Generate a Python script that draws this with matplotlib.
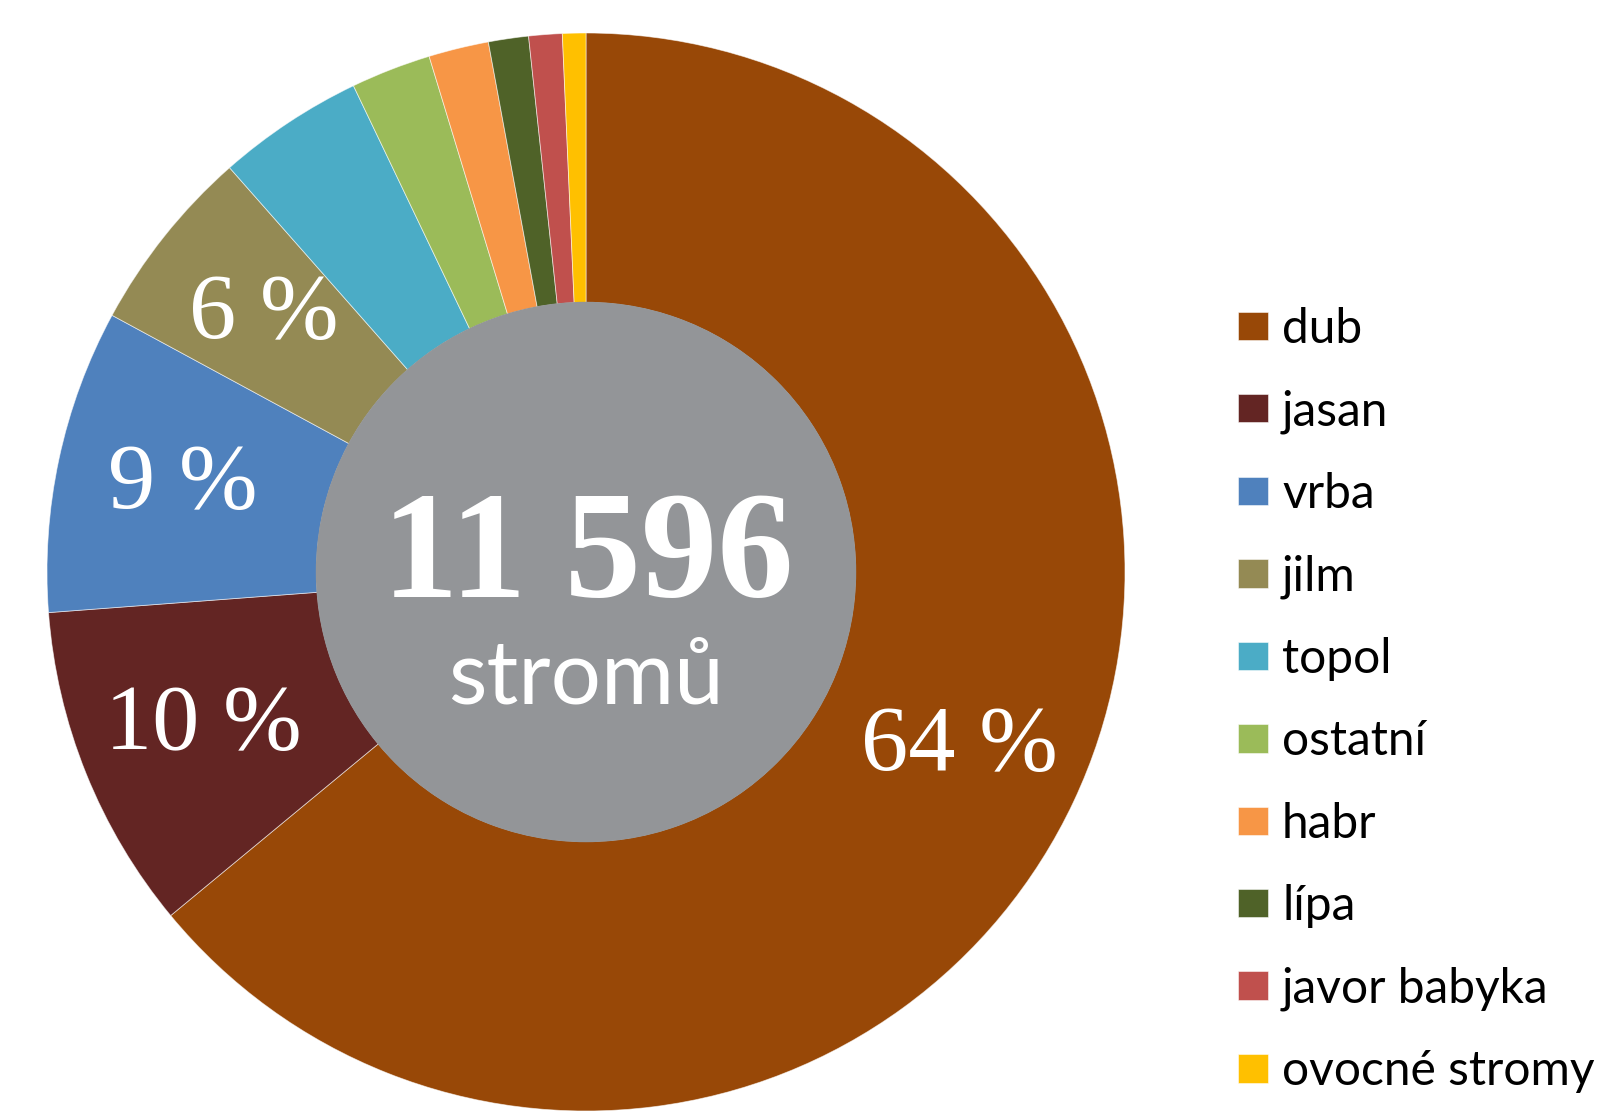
import numpy as np
import matplotlib
matplotlib.use('Agg')
import matplotlib.pyplot as plt

# podíl druhů stromů (%)
druhy = ['dub', 'jasan', 'vrba', 'jilm', 'topol', 'ostatní', 'habr', 'lípa',
         'javor babyka', 'ovocné stromy']
podil = [64.0, 9.8, 9.1, 5.6, 4.4, 2.4, 1.8, 1.2, 1.0, 0.7]
barvy = ['#984807', '#632523', '#4F81BD', '#948A54', '#4BACC6', '#9BBB59',
         '#F79646', '#4F6228', '#C0504D', '#FFC000']
celkem = '11 596'
popisek = 'stromů'
min_popisek = 5.0  # menší výseče bez procent

W, H = 1601, 1112
fig = plt.figure(figsize=(W / 100, H / 100), dpi=100)
ax = fig.add_axes([0, 0, 1, 1])

cx, cy, R = 586, H - 572, 539


def fmt(p):
    return f'{p:.0f} %' if p >= min_popisek else ''


wedges, _, pct = ax.pie(
    podil, colors=barvy, startangle=90, counterclock=False,
    center=(cx, cy), radius=R, autopct=fmt, pctdistance=0.765,
    wedgeprops=dict(width=R * 0.5, edgecolor=(1, 1, 1, 0.6), linewidth=0.6),
    textprops=dict(color='white', fontsize=68, family='Liberation Serif'))

# šedý střed s celkovým počtem
ax.add_patch(plt.Circle((cx, cy), R * 0.5, color='#939598', zorder=3))
ax.text(cx + 2, cy + 12, celkem, ha='center', va='center', color='white',
        fontsize=110, fontweight='bold', family='Liberation Serif', zorder=4)
ax.text(cx, cy - 106, popisek, ha='center', va='center', color='white',
        fontsize=64, family='Lato', zorder=4)

ax.set_xlim(0, W)
ax.set_ylim(0, H)
ax.set_aspect('equal')
ax.axis('off')

fig.legend(wedges, druhy, loc='center left', bbox_to_anchor=(1238 / W, 1 - 700 / H),
           frameon=False, borderpad=0, borderaxespad=0,
           prop=dict(family='Lato', size=34.5),
           handlelength=0.62, handleheight=0.54, handletextpad=0.3,
           labelspacing=0.8)

fig.savefig('out.png', dpi=100)
